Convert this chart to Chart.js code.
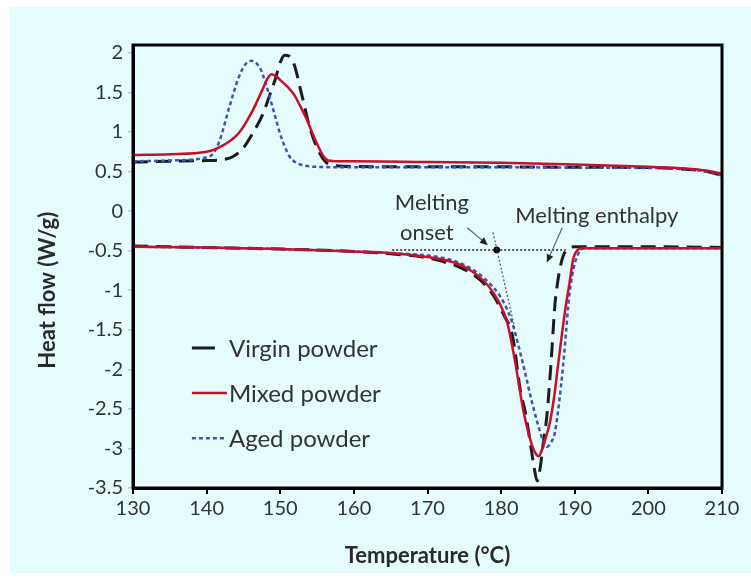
<!DOCTYPE html>
<html>
<head>
<meta charset="utf-8">
<script src="https://cdn.jsdelivr.net/npm/chart.js@4.4.0/dist/chart.umd.min.js"></script>
<style>
  body { margin: 0; background: #fff; }
  #wrap { position: absolute; left: 10px; top: 7px; width: 741px; height: 566px; background: #e6fbfb; }
</style>
</head>
<body>
<div id="wrap"><canvas id="myChart"></canvas></div>
<script>
// Data (temperature in C, heat flow in W/g)
const yTicks = [-3.5, -3, -2.5, -2, -1.5, -1, -0.5, 0, 0.5, 1, 1.5, 2];

// cooling runs (upper curves)
const virginCoolT = [130, 135, 140, 142, 143.6, 145, 146.3, 147.7, 148.5, 149.3, 150, 150.6, 151.2, 151.9, 152.9, 154, 155.1, 156.2, 157.5, 160, 170, 180, 190, 200, 205, 208, 210];
const virginCoolHF = [0.62, 0.63, 0.64, 0.65, 0.69, 0.8, 0.99, 1.24, 1.45, 1.66, 1.88, 1.97, 1.96, 1.85, 1.48, 1.06, 0.78, 0.62, 0.575, 0.565, 0.56, 0.56, 0.555, 0.55, 0.53, 0.5, 0.45];
const mixedCoolT = [130, 135, 140, 142.4, 144.4, 146.3, 147.5, 148.3, 148.8, 149.5, 150.2, 151.1, 151.9, 152.7, 153.5, 154.3, 155.1, 155.9, 156.5, 158, 160, 170, 180, 190, 200, 205, 208, 210];
const mixedCoolHF = [0.71, 0.72, 0.75, 0.84, 0.99, 1.28, 1.52, 1.68, 1.73, 1.7, 1.64, 1.56, 1.47, 1.33, 1.18, 1.0, 0.83, 0.69, 0.64, 0.63, 0.63, 0.62, 0.61, 0.59, 0.56, 0.54, 0.51, 0.47];
const agedCoolT = [130, 135, 140, 141, 141.8, 143.1, 144.4, 145.3, 146.1, 147.3, 148, 148.6, 149.3, 149.9, 150.6, 151.2, 152, 152.7, 154.8, 160, 170, 180, 190, 200, 205, 208, 210];
const agedCoolHF = [0.63, 0.64, 0.68, 0.74, 0.9, 1.32, 1.7, 1.86, 1.9, 1.8, 1.62, 1.43, 1.2, 1.0, 0.82, 0.7, 0.62, 0.59, 0.56, 0.555, 0.555, 0.555, 0.55, 0.545, 0.53, 0.5, 0.45];

// heating runs (lower curves)
const virginHeatT = [130, 140, 150, 160, 165, 170, 172.5, 174.4, 176.5, 178.1, 179.3, 180.3, 181.6, 182.6, 183.3, 183.9, 184.5, 184.9, 185.3, 185.7, 186.2, 186.6, 186.9, 187.3, 187.6, 188, 188.5, 189.4, 190, 200, 210];
const virginHeatHF = [-0.44, -0.46, -0.48, -0.51, -0.54, -0.59, -0.65, -0.71, -0.82, -0.96, -1.12, -1.3, -1.6, -2.26, -2.55, -2.89, -3.25, -3.41, -3.25, -2.95, -2.6, -2.15, -1.75, -1.19, -0.95, -0.72, -0.55, -0.46, -0.45, -0.45, -0.46];
const mixedHeatT = [130, 140, 150, 160, 165, 170, 172.5, 174.5, 176.5, 178.3, 179.7, 180.8, 181.8, 183, 184, 184.6, 185.1, 185.6, 186.1, 186.6, 187.2, 187.7, 188.2, 188.7, 189.3, 189.8, 190.4, 191, 200, 210];
const mixedHeatHF = [-0.45, -0.46, -0.48, -0.51, -0.53, -0.58, -0.62, -0.68, -0.79, -0.95, -1.15, -1.4, -1.85, -2.51, -2.9, -3.05, -3.1, -3.0, -2.85, -2.68, -2.35, -1.97, -1.6, -1.25, -0.9, -0.6, -0.49, -0.47, -0.47, -0.47];
const agedHeatT = [130, 140, 150, 160, 165, 170, 172.5, 174.5, 176.5, 178.5, 179.6, 180.5, 181.4, 182.3, 183.2, 184.1, 185, 185.7, 186.2, 186.8, 187.3, 187.9, 188.4, 188.8, 189.1, 189.4, 189.9, 190.3, 190.8, 191.5, 200, 210];
const agedHeatHF = [-0.45, -0.46, -0.48, -0.51, -0.53, -0.56, -0.6, -0.66, -0.76, -0.92, -1.04, -1.18, -1.38, -1.68, -2.02, -2.38, -2.7, -2.9, -2.98, -2.92, -2.8, -2.4, -1.97, -1.55, -1.21, -0.96, -0.7, -0.58, -0.49, -0.47, -0.47, -0.47];

// onset construction
const baselineT = [165.2, 188.8];
const baselineHF = [-0.49, -0.49];
const tangentT = [178.9, 181.9];
const tangentHF = [-0.27, -1.5];
const onsetT = [179.4];
const onsetHF = [-0.49];

const pts = (xs, ys) => xs.map((x, i) => ({ x: x, y: ys[i] }));

const FONT = "Lato, 'Open Sans', sans-serif";
const TXT = "#333";

const styles = {
  virgin: { label: "Virgin powder", borderColor: "#1c1c1c", borderWidth: 3, borderDash: [15, 8] },
  mixed: { label: "Mixed powder", borderColor: "#c8102e", borderWidth: 2.5, borderDash: [] },
  aged: { label: "Aged powder", borderColor: "#3a56b0", borderWidth: 2.5, borderDash: [4, 3] },
};

function curve(style, xs, ys, order) {
  return {
    label: style.label,
    data: pts(xs, ys),
    borderColor: style.borderColor,
    backgroundColor: style.borderColor,
    borderWidth: style.borderWidth,
    borderDash: style.borderDash,
    pointRadius: 0,
    fill: false,
    cubicInterpolationMode: "monotone",
    order: order,
  };
}

// annotations (positions in data units)
const notes = {
  texts: [
    { text: "Melting", x: 170.6, y: 0.1 },
    { text: "onset", x: 169.9, y: -0.28 },
    { text: "Melting enthalpy", x: 193.0, y: -0.06 },
  ],
  arrows: [
    { from: [175.4, -0.21], to: [178.2, -0.43] },
    { from: [188.3, -0.21], to: [186.2, -0.65] },
  ],
  legendAt: { x: 138, rows: [-1.73, -2.3, -2.87] },
  yTitleAt: -1.0,
};

const decor = {
  id: "decor",
  afterDatasetsDraw(chart) {
    const ctx = chart.ctx;
    const xs = chart.scales.x, ys = chart.scales.y;
    const a = chart.chartArea;
    ctx.save();
    // frame
    ctx.strokeStyle = "#000";
    ctx.lineWidth = 3;
    ctx.setLineDash([]);
    ctx.strokeRect(a.left, a.top, a.right - a.left, a.bottom - a.top);

    // texts
    ctx.fillStyle = TXT;
    ctx.font = "22px " + FONT;
    ctx.textAlign = "center";
    ctx.textBaseline = "middle";
    notes.texts.forEach((t) => {
      ctx.fillText(t.text, xs.getPixelForValue(t.x), ys.getPixelForValue(t.y));
    });

    // arrows
    notes.arrows.forEach((ar) => {
      const x1 = xs.getPixelForValue(ar.from[0]), y1 = ys.getPixelForValue(ar.from[1]);
      const x2 = xs.getPixelForValue(ar.to[0]), y2 = ys.getPixelForValue(ar.to[1]);
      const ang = Math.atan2(y2 - y1, x2 - x1);
      ctx.strokeStyle = "#666";
      ctx.lineWidth = 1.2;
      ctx.beginPath();
      ctx.moveTo(x1, y1);
      ctx.lineTo(x2 - 6 * Math.cos(ang), y2 - 6 * Math.sin(ang));
      ctx.stroke();
      ctx.fillStyle = "#222";
      ctx.beginPath();
      ctx.moveTo(x2, y2);
      ctx.lineTo(x2 - 8 * Math.cos(ang) + 3.5 * Math.sin(ang), y2 - 8 * Math.sin(ang) - 3.5 * Math.cos(ang));
      ctx.lineTo(x2 - 8 * Math.cos(ang) - 3.5 * Math.sin(ang), y2 - 8 * Math.sin(ang) + 3.5 * Math.cos(ang));
      ctx.closePath();
      ctx.fill();
    });

    // legend
    const lx = xs.getPixelForValue(notes.legendAt.x);
    const items = [styles.virgin, styles.mixed, styles.aged];
    const lens = [23, 35, 35];
    ctx.font = "24px " + FONT;
    ctx.textAlign = "left";
    items.forEach((s, i) => {
      const y = ys.getPixelForValue(notes.legendAt.rows[i]);
      ctx.strokeStyle = s.borderColor;
      ctx.lineWidth = s.borderWidth;
      ctx.setLineDash(i === 0 ? [] : s.borderDash);
      ctx.beginPath();
      ctx.moveTo(lx, y);
      ctx.lineTo(lx + lens[i], y);
      ctx.stroke();
      ctx.fillStyle = TXT;
      ctx.fillText(s.label, lx + 37, y + 1);
    });
    ctx.setLineDash([]);

    // y title
    ctx.translate(38, ys.getPixelForValue(notes.yTitleAt));
    ctx.rotate(-Math.PI / 2);
    ctx.font = "bold 22px " + FONT;
    ctx.textAlign = "center";
    ctx.fillStyle = "#2a2a2a";
    ctx.fillText("Heat flow (W/g)", 0, 0);
    ctx.restore();
  },
};

const config = {
  type: "line",
  data: {
    datasets: [
      curve(styles.mixed, mixedCoolT, mixedCoolHF, 1),
      curve(styles.aged, agedCoolT, agedCoolHF, 2),
      curve(styles.virgin, virginCoolT, virginCoolHF, 3),
      curve(styles.mixed, mixedHeatT, mixedHeatHF, 1),
      curve(styles.aged, agedHeatT, agedHeatHF, 2),
      curve(styles.virgin, virginHeatT, virginHeatHF, 3),
      {
        label: "baseline",
        data: pts(baselineT, baselineHF),
        borderColor: "#222",
        borderWidth: 1.5,
        borderDash: [2, 2],
        pointRadius: 0,
        order: 0,
      },
      {
        label: "tangent",
        data: pts(tangentT, tangentHF),
        borderColor: "#555",
        borderWidth: 1.2,
        borderDash: [2, 2],
        pointRadius: 0,
        order: 0,
      },
      {
        label: "onset",
        data: pts(onsetT, onsetHF),
        showLine: false,
        pointRadius: 3,
        pointBackgroundColor: "#000",
        pointBorderColor: "#000",
        order: 0,
      },
    ],
  },
  options: {
    responsive: true,
    maintainAspectRatio: false,
    animation: false,
    layout: { padding: { top: 38, right: 29, left: 0, bottom: 0 } },
    scales: {
      x: {
        type: "linear",
        min: 130,
        max: 210,
        ticks: { stepSize: 10, color: TXT, font: { family: FONT, size: 20 }, padding: 3 },
        grid: { drawOnChartArea: false, color: "#000", lineWidth: 2, tickLength: 6 },
        border: { color: "#000", width: 3 },
        title: {
          display: true,
          text: "Temperature (°C)",
          color: "#2a2a2a",
          font: { family: FONT, size: 22, weight: "bold" },
          padding: { top: 0, bottom: 4 },
        },
        afterFit: (s) => { s.height = 85; },
      },
      y: {
        min: -3.5,
        max: 2.1,
        afterBuildTicks: (s) => { s.ticks = yTicks.map((v) => ({ value: v })); },
        ticks: { color: TXT, font: { family: FONT, size: 20 }, padding: 5, callback: (v) => String(v) },
        grid: { drawOnChartArea: false, color: "#b4c6da", lineWidth: 1.5, tickLength: 5 },
        border: { color: "#000", width: 3 },
        afterFit: (s) => { s.width = 123; },
      },
    },
    plugins: {
      legend: { display: false },
      tooltip: { enabled: false },
    },
  },
  plugins: [decor],
};

myChart = new Chart(document.getElementById("myChart"), config);
</script>
</body>
</html>
